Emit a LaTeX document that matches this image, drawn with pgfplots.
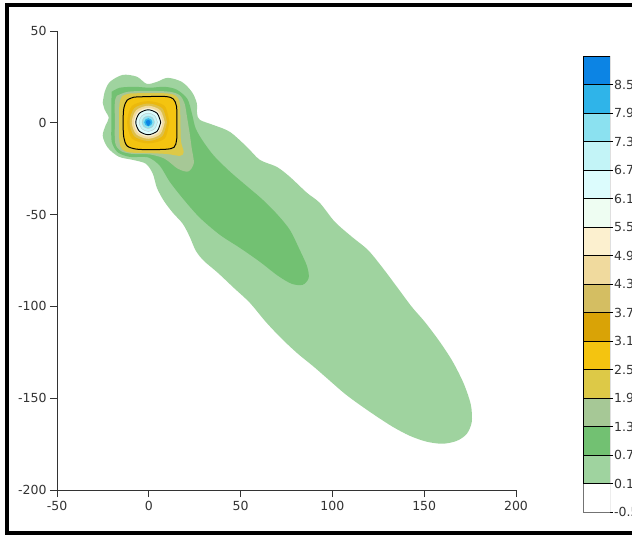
\documentclass[border=0pt]{standalone}
\usepackage{pgfplots}
\pgfplotsset{compat=1.18}
\usepackage{fontspec}
\setmainfont{DejaVu Sans}
\definecolor{c16}{HTML}{0C84E4}
\definecolor{c15}{HTML}{2FB4E9}
\definecolor{c14}{HTML}{8BE1F0}
\definecolor{c13}{HTML}{C3F4F7}
\definecolor{c12}{HTML}{DCFCFD}
\definecolor{c11}{HTML}{EEFDF2}
\definecolor{c10}{HTML}{FCF0CF}
\definecolor{c9}{HTML}{F0DA9E}
\definecolor{c8}{HTML}{D4BE62}
\definecolor{c7}{HTML}{D9A306}
\definecolor{c6}{HTML}{F4C410}
\definecolor{c5}{HTML}{DDC947}
\definecolor{c4}{HTML}{A6C896}
\definecolor{c3}{HTML}{72C172}
\definecolor{c2}{HTML}{9FD39F}
\definecolor{c1}{HTML}{FFFFFF}
\definecolor{axgray}{HTML}{333333}
\begin{document}
\begin{tikzpicture}
\begin{axis}[
  at={(57pt,-490pt)}, anchor=south west,
  scale only axis, width=459pt, height=459pt,
  xmin=-50, xmax=200, ymin=-200, ymax=50,
  axis x line=bottom, axis y line=left,
  axis line style={-, axgray, line width=0.8pt},
  tick style={axgray, line width=0.8pt},
  tick align=outside, major tick length=7pt,
  xtick={-50,0,50,100,150,200},
  ytick={-200,-150,-100,-50,0,50},
  /pgf/number format/assume math mode=true,
  tick label style={font=\fontsize{12.5}{14}\selectfont, text=axgray},
  xticklabel style={yshift=-1pt},
]
% 0.1 - 0.7 outer plume
\addplot[fill=c2, draw=none, smooth, tension=0.5] coordinates {
(-25.1,10.9) (-24.0,16.9) (-21.2,22.3) (-14.2,26.1) (-6.5,25.1) (-1.1,21.2)
(4.4,22.3) (10.3,24.5) (18.0,22.3) (23.4,16.9) (26.1,10.9) (26.3,5.0)
(27.8,1.6) (34.9,-1.1) (44.1,-4.9) (53.4,-13.1) (60.5,-20.2) (69.7,-24.0)
(76.8,-29.4) (86.1,-38.1) (93.1,-43.6) (101.3,-53.9) (110.6,-62.1) (119.3,-69.2)
(126.9,-78.4) (135.1,-89.3) (143.2,-100.2) (150.3,-108.4) (158.5,-119.3) (165.6,-130.2)
(171.6,-142.2) (175.4,-153.6) (175.9,-162.9) (173.2,-169.4) (167.8,-173.2) (160.1,-174.8)
(151.4,-173.7) (142.2,-170.5) (132.9,-165.6) (123.6,-159.6) (114.9,-153.6) (106.8,-147.6)
(98.6,-140.5) (89.9,-132.9) (81.2,-125.8) (72.4,-117.6) (63.7,-108.4) (55.0,-98.0)
(46.3,-89.9) (37.6,-81.7) (30.0,-75.2) (25.6,-69.7) (22.3,-62.1) (18.5,-55.0)
(13.1,-49.0) (8.2,-42.5) (4.4,-35.4) (2.2,-27.8) (-1.6,-22.3) (-8.7,-20.2)
(-16.3,-18.5) (-22.3,-13.6) (-25.1,-7.1) (-23.4,-1.1) (-21.8,2.7) (-24.0,7.1) (-25.1,10.9)
} -- cycle;
% 0.7 - 1.3
\addplot[fill=c3, draw=none, smooth, tension=0.5] coordinates {
(-20.2,16.9) (-15.8,19.1) (-7.6,19.6) (0.5,19.1) (8.7,19.6) (15.3,18.0)
(21.0,13.0) (23.5,5.0) (25.5,-3.0) (29.5,-10.0) (35.5,-18.0) (44.1,-26.5)
(53.4,-34.5) (61.5,-41.4) (69.7,-49.6) (76.8,-58.3) (82.2,-69.2) (86.1,-77.9)
(87.1,-84.4) (83.9,-88.2) (77.9,-87.7) (70.3,-83.3) (60.5,-75.7) (49.6,-68.1)
(38.7,-61.0) (27.8,-51.7) (19.1,-41.9) (11.4,-32.1) (6.0,-23.4) (-0.5,-18.8)
(-10.3,-18.6) (-17.0,-16.0) (-20.2,-10.3) (-20.4,-1.1) (-20.4,9.8) (-20.2,16.9)
} -- cycle;
% 1.3 - 1.9
\addplot[fill=c4, draw=none, smooth, tension=0.5] coordinates {
(-17.4,14.7) (-11.4,16.9) (0.5,17.4) (11.4,16.9) (16.8,15.0) (19.5,10.5)
(21.0,2.0) (22.3,-6.0) (23.4,-14.0) (24.5,-22.0) (21.5,-26.5) (15.8,-25.0)
(8.7,-19.6) (0.5,-17.2) (-9.3,-16.9) (-15.3,-15.3) (-18.3,-10.9) (-18.5,1.6)
(-18.5,11.4) (-17.4,14.7)
} -- cycle;
% 1.9 - 2.5
\addplot[fill=c5, draw=none, smooth, tension=0.5] coordinates {
(-10,16.0) (0,16.2) (10,16.0) (14.5,14.8) (16.8,11) (17.2,0) (17.5,-10)
(19,-16) (17,-18) (10,-17.0) (0,-16.5) (-10,-16.2) (-14.5,-14.5) (-16,-10)
(-16.2,0) (-16,10) (-14.5,14.5) (-10,16.0)
} -- cycle;
% 2.5 - 3.1 (black contour)
\addplot[fill=c6, draw=black, line width=1pt, smooth, tension=0.5] coordinates {
(-8,14.0) (0,14.3) (9.5,14.3) (13.3,13) (15.1,9) (15.3,0) (15.2,-9)
(13.8,-13.3) (9.5,-14.4) (0,-14.6) (-7,-14.3) (-11.8,-12.6) (-13.6,-8.0)
(-14.0,0) (-13.6,8.0) (-11.8,12.3) (-8,14.0)
} -- cycle;
% 3.1 - 3.7
\addplot[fill=c6!65!c7, draw=none, smooth] coordinates {
(11.2,0.3) (8.6,9.2) (-0.3,11.8) (-9.2,9.2) (-11.8,0.3) (-9.2,-8.6) (-0.3,-11.2) (8.6,-8.6) (11.2,0.3)
} -- cycle;
% 3.7 - 4.3
\addplot[fill=c8!70!c6, draw=none, smooth] coordinates {
(9.9,0.3) (7.3,7.9) (-0.3,10.5) (-7.9,7.9) (-10.5,0.3) (-7.9,-7.3) (-0.3,-9.9) (7.3,-7.3) (9.9,0.3)
} -- cycle;
% 4.3 - 4.9
\addplot[fill=c9, draw=none, smooth] coordinates {
(8.7,0.3) (6.25,6.85) (-0.3,9.3) (-6.85,6.85) (-9.3,0.3) (-6.85,-6.25) (-0.3,-8.7) (6.25,-6.25) (8.7,0.3)
} -- cycle;
% 4.9 - 5.5
\addplot[fill=c10, draw=none, smooth] coordinates {
(7.5,0.3) (5.3,5.9) (-0.3,8.1) (-5.9,5.9) (-8.1,0.3) (-5.9,-5.3) (-0.3,-7.5) (5.3,-5.3) (7.5,0.3)
} -- cycle;
% 5.5 - 6.1
\addplot[fill=c11, draw=none, smooth] coordinates {
(6.9,0.3) (4.85,5.45) (-0.3,7.5) (-5.45,5.45) (-7.5,0.3) (-5.45,-4.85) (-0.3,-6.9) (4.85,-4.85) (6.9,0.3)
} -- cycle;
% 6.1 - 6.7 (black contour)
\addplot[fill=c12, draw=black, line width=0.9pt, smooth] coordinates {
(6.5,0.3) (4.55,5.15) (-0.3,7.1) (-5.15,5.15) (-7.1,0.3) (-5.15,-4.55) (-0.3,-6.5) (4.55,-4.55) (6.5,0.3)
} -- cycle;
% 6.7 - 7.3
\addplot[fill=c13, draw=black!25, line width=0.3pt, smooth] coordinates {
(4.7,0.3) (3.25,3.85) (-0.3,5.3) (-3.85,3.85) (-5.3,0.3) (-3.85,-3.25) (-0.3,-4.7) (3.25,-3.25) (4.7,0.3)
} -- cycle;
% 7.3 - 7.9
\addplot[fill=c14, draw=black!25, line width=0.3pt, smooth] coordinates {
(3.1,0.3) (2.1,2.7) (-0.3,3.7) (-2.7,2.7) (-3.7,0.3) (-2.7,-2.1) (-0.3,-3.1) (2.1,-2.1) (3.1,0.3)
} -- cycle;
% 7.9 - 8.5
\addplot[fill=c15, draw=none, smooth] coordinates {
(1.9,0.3) (1.25,1.85) (-0.3,2.5) (-1.85,1.85) (-2.5,0.3) (-1.85,-1.25) (-0.3,-1.9) (1.25,-1.25) (1.9,0.3)
} -- cycle;
% > 8.5
\addplot[fill=c16, draw=none, smooth] coordinates {
(1.0,0.3) (0.6,1.2) (-0.3,1.5) (-1.2,1.2) (-1.6,0.3) (-1.2,-0.6) (-0.3,-1.8) (0.6,-0.6) (1.0,0.3)
} -- cycle;
\end{axis}
% colour bar
\begin{axis}[
  at={(583pt,-512pt)}, anchor=south west,
  scale only axis, width=27pt, height=456pt,
  xmin=0, xmax=1, ymin=-0.5, ymax=9.1,
  hide x axis, axis y line=right,
  axis line style={draw=none},
  ytick={-0.5,0.1,0.7,1.3,1.9,2.5,3.1,3.7,4.3,4.9,5.5,6.1,6.7,7.3,7.9,8.5},
  tick align=outside, major tick length=3pt,
  ytick style={black, line width=0.7pt},
  /pgf/number format/assume math mode=true,
  yticklabel style={font=\fontsize{12.5}{14}\selectfont, text=axgray, inner sep=1pt,
    /pgf/number format/.cd, fixed, fixed zerofill, precision=1},
]
\addplot[fill=c1, draw=black!55, line width=0.7pt] coordinates {(0,-0.5) (1,-0.5) (1,0.1) (0,0.1)} -- cycle;
\addplot[fill=c2, draw=black, line width=0.7pt] coordinates {(0,0.1) (1,0.1) (1,0.7) (0,0.7)} -- cycle;
\addplot[fill=c3, draw=black, line width=0.7pt] coordinates {(0,0.7) (1,0.7) (1,1.3) (0,1.3)} -- cycle;
\addplot[fill=c4, draw=black, line width=0.7pt] coordinates {(0,1.3) (1,1.3) (1,1.9) (0,1.9)} -- cycle;
\addplot[fill=c5, draw=black, line width=0.7pt] coordinates {(0,1.9) (1,1.9) (1,2.5) (0,2.5)} -- cycle;
\addplot[fill=c6, draw=black, line width=0.7pt] coordinates {(0,2.5) (1,2.5) (1,3.1) (0,3.1)} -- cycle;
\addplot[fill=c7, draw=black, line width=0.7pt] coordinates {(0,3.1) (1,3.1) (1,3.7) (0,3.7)} -- cycle;
\addplot[fill=c8, draw=black, line width=0.7pt] coordinates {(0,3.7) (1,3.7) (1,4.3) (0,4.3)} -- cycle;
\addplot[fill=c9, draw=black, line width=0.7pt] coordinates {(0,4.3) (1,4.3) (1,4.9) (0,4.9)} -- cycle;
\addplot[fill=c10, draw=black, line width=0.7pt] coordinates {(0,4.9) (1,4.9) (1,5.5) (0,5.5)} -- cycle;
\addplot[fill=c11, draw=black, line width=0.7pt] coordinates {(0,5.5) (1,5.5) (1,6.1) (0,6.1)} -- cycle;
\addplot[fill=c12, draw=black, line width=0.7pt] coordinates {(0,6.1) (1,6.1) (1,6.7) (0,6.7)} -- cycle;
\addplot[fill=c13, draw=black, line width=0.7pt] coordinates {(0,6.7) (1,6.7) (1,7.3) (0,7.3)} -- cycle;
\addplot[fill=c14, draw=black, line width=0.7pt] coordinates {(0,7.3) (1,7.3) (1,7.9) (0,7.9)} -- cycle;
\addplot[fill=c15, draw=black, line width=0.7pt] coordinates {(0,7.9) (1,7.9) (1,8.5) (0,8.5)} -- cycle;
\addplot[fill=c16, draw=black, line width=0.7pt] coordinates {(0,8.5) (1,8.5) (1,9.1) (0,9.1)} -- cycle;
\end{axis}
\draw[line width=4pt, black] (645pt,-5.5pt) -- (6.5pt,-5.5pt) -- (6.5pt,-533pt) -- (645pt,-533pt);
\pgfresetboundingbox
\useasboundingbox (0pt,0pt) rectangle (632pt,-537pt);
\end{tikzpicture}
\end{document}
